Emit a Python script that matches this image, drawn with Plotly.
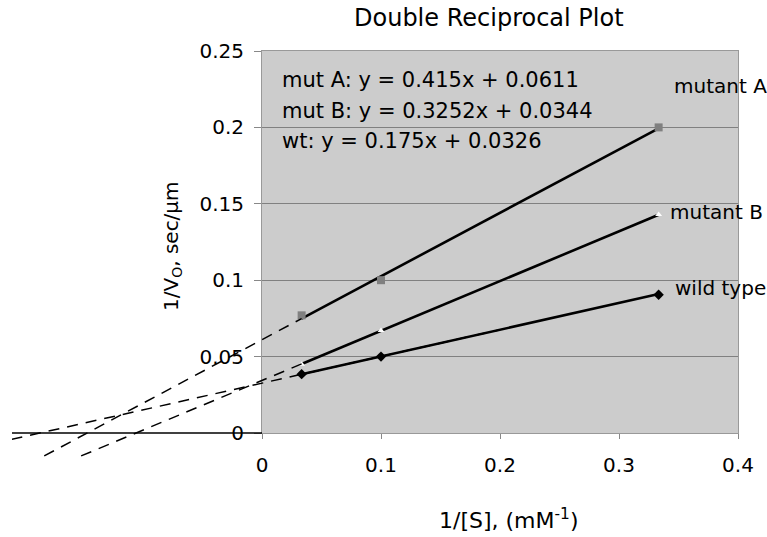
import plotly.graph_objects as go

W, H = 767, 537

# ---- data ----
inv_s = [0.0333, 0.1, 0.3333]
mutA = [0.077, 0.100, 0.200]
mutB = [0.045, 0.067, 0.143]
wt = [0.0385, 0.050, 0.0905]

# fitted trendlines (solid, within data range)
fitA_x, fitA_y = [0.0333, 0.3333], [0.0749, 0.1994]
fitB_x, fitB_y = [0.0333, 0.3333], [0.0452, 0.1428]
fitW_x, fitW_y = [0.0333, 0.3333], [0.0384, 0.0909]

# backward extrapolations (dashed)
extA_x, extA_y = [-0.183, 0.0333], [-0.0150, 0.0749]
extB_x, extB_y = [-0.152, 0.0333], [-0.0150, 0.0452]
extW_x, extW_y = [-0.2105, 0.2], [-0.0042, 0.0676]

equations = ["mut A: y = 0.415x + 0.0611",
             "mut B: y = 0.3252x + 0.0344",
             "wt: y = 0.175x + 0.0326"]
series_labels = ["mutant A", "mutant B", "wild type"]

FONT = "DejaVu Sans"

def px(x):
    return x / W

def py(y):
    return (H - y) / H

# plot area pixels
L, R, T, B = 262, 738, 51, 433
L2, B2 = 12, 470
ymin2 = -(B2 - B) / ((B - T) / 0.25)
xmin2 = -(L - L2) / ((R - L) / 0.4)

fig = go.Figure()

# solid trendlines
for xs, ys in [(fitA_x, fitA_y), (fitB_x, fitB_y), (fitW_x, fitW_y)]:
    fig.add_trace(go.Scatter(x=xs, y=ys, mode="lines",
                             line=dict(color="black", width=2.6),
                             xaxis="x", yaxis="y", showlegend=False, hoverinfo="skip"))

# markers
fig.add_trace(go.Scatter(x=inv_s, y=mutA, mode="markers",
                         marker=dict(symbol="square", size=8, color="#808080"),
                         showlegend=False))
fig.add_trace(go.Scatter(x=inv_s, y=mutB, mode="markers",
                         marker=dict(symbol="triangle-up", size=6, color="white"),
                         showlegend=False))
fig.add_trace(go.Scatter(x=inv_s, y=wt, mode="markers",
                         marker=dict(symbol="diamond", size=8, color="black"),
                         showlegend=False))

# dashed extrapolations on the extended axes
for xs, ys in [(extA_x, extA_y), (extB_x, extB_y), (extW_x, extW_y)]:
    fig.add_trace(go.Scatter(x=xs, y=ys, mode="lines",
                             line=dict(color="black", width=1.5, dash="11px,8px"),
                             xaxis="x2", yaxis="y2", showlegend=False, hoverinfo="skip"))

shapes = [
    dict(type="rect", xref="x domain", yref="y domain", x0=0, x1=1, y0=0, y1=1,
         fillcolor="#CCCCCC", line=dict(width=0), layer="below"),
    dict(type="line", xref="x2", yref="y2", x0=xmin2, x1=0, y0=0, y1=0,
         line=dict(color="black", width=1.3)),
]

annotations = []
eq_y = [80, 111, 141]
for t, yy in zip(equations, eq_y):
    annotations.append(dict(text=t, x=px(280), y=py(yy), xref="paper", yref="paper",
                            xanchor="left", yanchor="middle", showarrow=False,
                            font=dict(family=FONT, size=21, color="black")))
lab_pos = [(672, 86), (668, 212), (673, 288)]
for t, (xx, yy) in zip(series_labels, lab_pos):
    annotations.append(dict(text=t, x=px(xx), y=py(yy), xref="paper", yref="paper",
                            xanchor="left", yanchor="middle", showarrow=False,
                            font=dict(family=FONT, size=20, color="black")))
annotations.append(dict(text="Double Reciprocal Plot", x=px(352), y=py(18),
                        xref="paper", yref="paper", xanchor="left", yanchor="middle",
                        showarrow=False, font=dict(family=FONT, size=24, color="black")))
annotations.append(dict(text="1/[S], (mM<sup>-1</sup>)", x=px(508), y=py(519),
                        xref="paper", yref="paper", xanchor="center", yanchor="middle",
                        showarrow=False, font=dict(family=FONT, size=22, color="black")))
annotations.append(dict(text="1/V<sub>O</sub>, sec/µm", x=px(172), y=py(246),
                        xref="paper", yref="paper", xanchor="center", yanchor="middle",
                        textangle=-90, showarrow=False,
                        font=dict(family=FONT, size=20, color="black")))

fig.update_layout(
    width=W, height=H,
    margin=dict(l=0, r=0, t=0, b=0, autoexpand=False),
    paper_bgcolor="white",
    plot_bgcolor="rgba(0,0,0,0)",
    font=dict(family=FONT, size=16, color="black"),
    shapes=shapes,
    annotations=annotations,
    xaxis=dict(domain=[px(L), px(R)], range=[0, 0.4], anchor="y", automargin=False,
               tickvals=[0, 0.1, 0.2, 0.3, 0.4], ticktext=["0", "0.1", "0.2", "0.3", "0.4"],
               ticks="outside", ticklen=5, tickcolor="#888888", tickwidth=1,
               showline=True, linecolor="#999999", linewidth=1, mirror=True,
               showgrid=False, zeroline=False, ticklabelstandoff=9,
               tickfont=dict(family=FONT, size=20)),
    yaxis=dict(domain=[py(B), py(T)], range=[0, 0.25], anchor="x", automargin=False,
               tickvals=[0, 0.05, 0.1, 0.15, 0.2, 0.25],
               ticktext=["0", "0.05", "0.1", "0.15", "0.2", "0.25"],
               ticks="outside", ticklen=7, tickcolor="#888888", tickwidth=1,
               showline=True, linecolor="#999999", linewidth=1, mirror=True,
               showgrid=True, gridcolor="#808080", gridwidth=1, zeroline=False,
               ticklabelstandoff=6,
               tickfont=dict(family=FONT, size=20)),
    xaxis2=dict(domain=[px(L2), px(R)], range=[xmin2, 0.4], anchor="y2",
                visible=False, fixedrange=True, automargin=False),
    yaxis2=dict(domain=[py(B2), py(T)], range=[ymin2, 0.25], anchor="x2",
                visible=False, fixedrange=True, automargin=False),
)

fig.write_html(
    "out.html",
    config={"displayModeBar": False},
    post_script="document.body.style.margin='0px';document.body.style.padding='0px';"
                "document.documentElement.style.overflow='hidden';"
                "document.body.style.overflow='hidden';",
)
